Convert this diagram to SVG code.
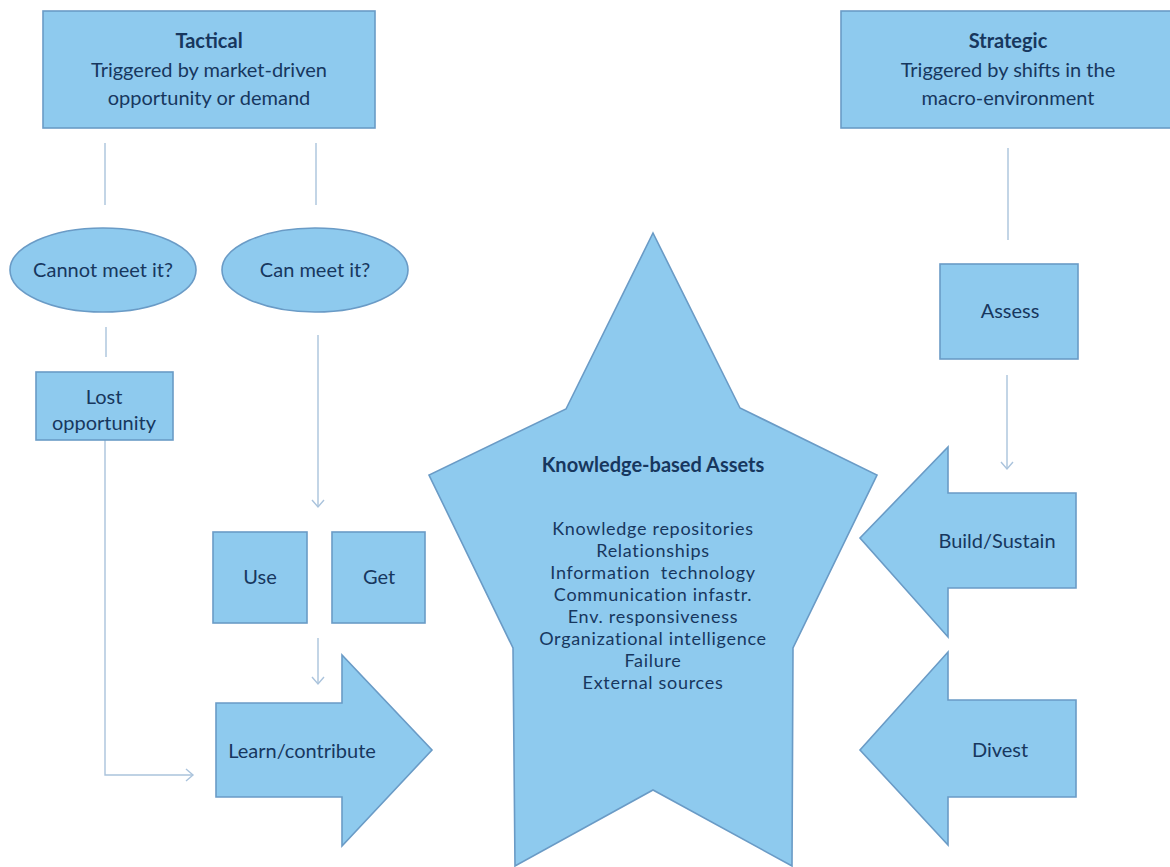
<svg xmlns="http://www.w3.org/2000/svg" width="1170" height="867" viewBox="0 0 1170 867">
  <style>
    .shape { fill: #8ecaee; stroke: #6a9bc6; stroke-width: 1.6; }
    .txt { font-family: Lato, "Liberation Sans", Arial, sans-serif; font-size: 20px; fill: #17375e; text-anchor: middle; }
    .bold { font-weight: bold; }
    .item { font-size: 18px; letter-spacing: 0.7px; }
    .conn { fill: none; stroke: #aac3dc; stroke-width: 1.4; }
  </style>
  <defs>
    <marker id="open-arrow" markerUnits="userSpaceOnUse" markerWidth="16" markerHeight="16" viewBox="-8 -8 16 16" refX="0" refY="0" orient="auto">
      <path d="M-7,-6 L0,0 L-7,6" fill="none" stroke="#aac3dc" stroke-width="1.4"/>
    </marker>
  </defs>
  <rect width="1170" height="867" fill="#ffffff"/>

  <!-- connectors -->
  <g id="connectors">
    <line class="conn" x1="105" y1="143" x2="105" y2="205"/>
    <line class="conn" x1="316" y1="143" x2="316" y2="205"/>
    <line class="conn" x1="106" y1="327" x2="106" y2="357"/>
    <line class="conn" x1="318" y1="335" x2="318" y2="507" marker-end="url(#open-arrow)"/>
    <line class="conn" x1="318" y1="638" x2="318" y2="684" marker-end="url(#open-arrow)"/>
    <polyline class="conn" points="105,440 105,775 193,775" marker-end="url(#open-arrow)"/>
    <line class="conn" x1="1008" y1="148" x2="1008" y2="240"/>
    <line class="conn" x1="1007" y1="375" x2="1007" y2="469" marker-end="url(#open-arrow)"/>
  </g>

  <g id="tactical">
    <rect class="shape" x="43" y="11" width="332" height="117"/>
    <text class="txt bold" x="209" y="48">Tactical</text>
    <text class="txt" x="209" y="77">Triggered by market-driven</text>
    <text class="txt" x="209" y="105">opportunity or demand</text>
  </g>

  <g id="strategic">
    <rect class="shape" x="841" y="11" width="340" height="117"/>
    <text class="txt bold" x="1008" y="48">Strategic</text>
    <text class="txt" x="1008" y="77">Triggered by shifts in the</text>
    <text class="txt" x="1008" y="105">macro-environment</text>
  </g>

  <g id="cannot-meet">
    <ellipse class="shape" cx="103" cy="270" rx="93" ry="42"/>
    <text class="txt" x="103" y="277">Cannot meet it?</text>
  </g>

  <g id="can-meet">
    <ellipse class="shape" cx="315" cy="270" rx="93" ry="42"/>
    <text class="txt" x="315" y="277">Can meet it?</text>
  </g>

  <g id="lost-opportunity">
    <rect class="shape" x="36" y="372" width="137" height="68"/>
    <text class="txt" x="104" y="404">Lost</text>
    <text class="txt" x="104" y="430">opportunity</text>
  </g>

  <g id="use">
    <rect class="shape" x="213" y="532" width="94" height="91"/>
    <text class="txt" x="260" y="584">Use</text>
  </g>

  <g id="get">
    <rect class="shape" x="332" y="532" width="93" height="91"/>
    <text class="txt" x="379" y="584">Get</text>
  </g>

  <g id="learn-contribute">
    <polygon class="shape" points="216,703 342,703 342,655 432,750 342,846 342,797 216,797"/>
    <text class="txt" x="302" y="758">Learn/contribute</text>
  </g>

  <g id="knowledge-assets">
    <polygon class="shape" points="653,233 740,408 877,475 793,648 792,866 653,790 515,866 513,648 429,475 566,409"/>
    <text class="txt bold" x="653" y="472">Knowledge-based Assets</text>
    <text class="txt item" x="653" y="535">Knowledge repositories</text>
    <text class="txt item" x="653" y="557">Relationships</text>
    <text class="txt item" x="653" y="579" style="white-space:pre">Information  technology</text>
    <text class="txt item" x="653" y="601">Communication infastr.</text>
    <text class="txt item" x="653" y="623">Env. responsiveness</text>
    <text class="txt item" x="653" y="645">Organizational intelligence</text>
    <text class="txt item" x="653" y="667">Failure</text>
    <text class="txt item" x="653" y="689">External sources</text>
  </g>

  <g id="assess">
    <rect class="shape" x="940" y="264" width="138" height="95"/>
    <text class="txt" x="1010" y="318">Assess</text>
  </g>

  <g id="build-sustain">
    <polygon class="shape" points="1076,493 948,493 948,447 860,538 948,637 948,588 1076,588"/>
    <text class="txt" x="997" y="548">Build/Sustain</text>
  </g>

  <g id="divest">
    <polygon class="shape" points="1076,700 948,700 948,652 860,750 948,845 948,797 1076,797"/>
    <text class="txt" x="1000" y="757">Divest</text>
  </g>
</svg>
